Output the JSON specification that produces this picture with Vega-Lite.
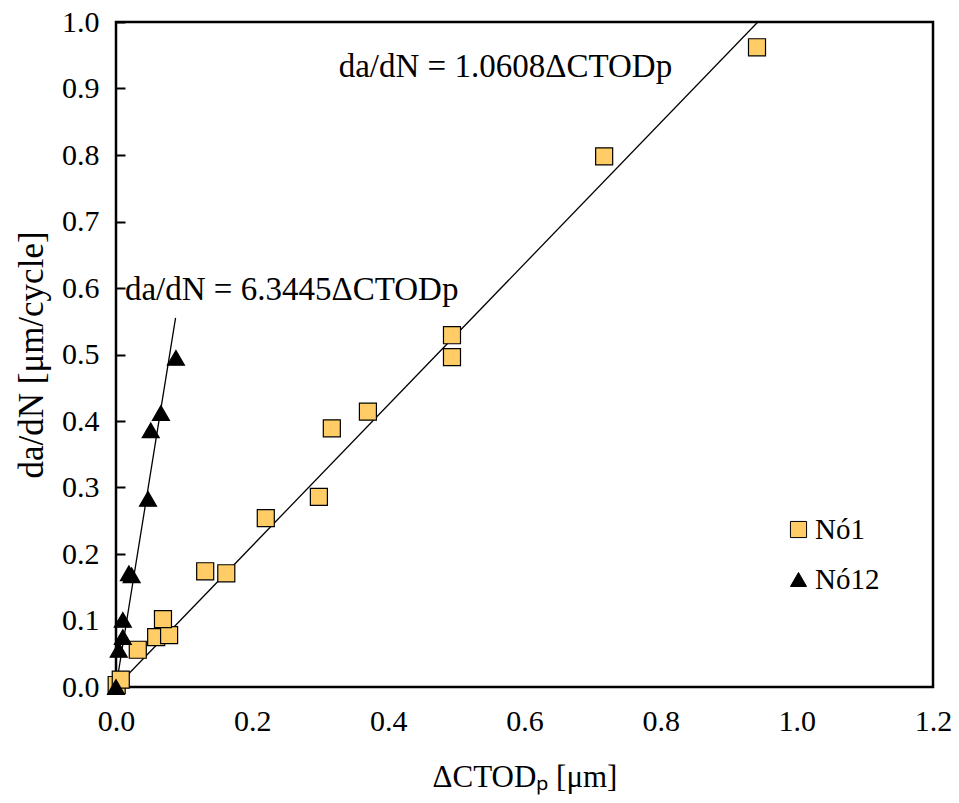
{
  "$schema": "https://vega.github.io/schema/vega-lite/v6.json",
  "width": 817,
  "height": 665,
  "autosize": {"type": "none"},
  "padding": {"left": 116, "top": 22, "right": 26, "bottom": 116},
  "background": "white",
  "config": {
    "font": "Liberation Serif",
    "view": {"stroke": "black", "strokeWidth": 2.5},
    "axis": {
      "grid": false,
      "domain": false,
      "labelFlush": false,
      "labelColor": "black",
      "labelFont": "Liberation Serif",
      "labelFontSize": 30,
      "titleFont": "Liberation Serif",
      "titleColor": "black",
      "titleFontWeight": "normal"
    },
    "legend": {
      "labelFont": "Liberation Serif",
      "labelFontSize": 29,
      "labelColor": "black"
    }
  },
  "datasets": {
    "points": [
      {"series": "Nó1", "ctod": 0.001, "dadn": 0.003},
      {"series": "Nó1", "ctod": 0.007, "dadn": 0.011},
      {"series": "Nó1", "ctod": 0.032, "dadn": 0.056},
      {"series": "Nó1", "ctod": 0.059, "dadn": 0.075},
      {"series": "Nó1", "ctod": 0.078, "dadn": 0.078},
      {"series": "Nó1", "ctod": 0.069, "dadn": 0.102},
      {"series": "Nó1", "ctod": 0.131, "dadn": 0.174},
      {"series": "Nó1", "ctod": 0.162, "dadn": 0.171},
      {"series": "Nó1", "ctod": 0.220, "dadn": 0.254},
      {"series": "Nó1", "ctod": 0.298, "dadn": 0.286},
      {"series": "Nó1", "ctod": 0.317, "dadn": 0.389},
      {"series": "Nó1", "ctod": 0.370, "dadn": 0.414},
      {"series": "Nó1", "ctod": 0.4935, "dadn": 0.496},
      {"series": "Nó1", "ctod": 0.4935, "dadn": 0.529},
      {"series": "Nó1", "ctod": 0.717, "dadn": 0.798},
      {"series": "Nó1", "ctod": 0.9415, "dadn": 0.962},
      {"series": "Nó12", "ctod": 0.0, "dadn": 0.0},
      {"series": "Nó12", "ctod": 0.004, "dadn": 0.056},
      {"series": "Nó12", "ctod": 0.010, "dadn": 0.075},
      {"series": "Nó12", "ctod": 0.010, "dadn": 0.101},
      {"series": "Nó12", "ctod": 0.019, "dadn": 0.171},
      {"series": "Nó12", "ctod": 0.023, "dadn": 0.168},
      {"series": "Nó12", "ctod": 0.047, "dadn": 0.283},
      {"series": "Nó12", "ctod": 0.051, "dadn": 0.386},
      {"series": "Nó12", "ctod": 0.066, "dadn": 0.412},
      {"series": "Nó12", "ctod": 0.088, "dadn": 0.495}
    ],
    "trends": [
      {"series": "Nó1", "ctod": 0.0, "dadn": 0.0},
      {"series": "Nó1", "ctod": 0.9427, "dadn": 1.0},
      {"series": "Nó12", "ctod": 0.0, "dadn": 0.0},
      {"series": "Nó12", "ctod": 0.0875, "dadn": 0.555}
    ],
    "equations": [
      {"ctod": 0.572, "dadn": 0.932, "label": "da/dN = 1.0608ΔCTODp"},
      {"ctod": 0.258, "dadn": 0.597, "label": "da/dN = 6.3445ΔCTODp"}
    ]
  },
  "layer": [
    {
      "data": {"name": "trends"},
      "mark": {"type": "line", "color": "black", "strokeWidth": 1.3, "clip": true},
      "encoding": {
        "x": {"field": "ctod", "type": "quantitative", "scale": {"domain": [0, 1.2], "nice": false}},
        "y": {"field": "dadn", "type": "quantitative", "scale": {"domain": [0, 1.0], "nice": false}},
        "detail": {"field": "series"}
      }
    },
    {
      "data": {"name": "points"},
      "mark": {"type": "point", "filled": true, "stroke": "black", "strokeWidth": 1.2, "opacity": 1, "size": 290},
      "encoding": {
        "x": {
          "field": "ctod",
          "type": "quantitative",
          "scale": {"domain": [0, 1.2], "nice": false},
          "axis": {
            "title": "ΔCTODₚ [μm]",
            "values": [0, 0.2, 0.4, 0.6, 0.8, 1.0, 1.2],
            "format": ".1f",
            "ticks": false,
            "titleFontSize": 31,
            "labelPadding": 19,
            "titlePadding": 26
          }
        },
        "y": {
          "field": "dadn",
          "type": "quantitative",
          "scale": {"domain": [0, 1.0], "nice": false},
          "axis": {
            "title": "da/dN [μm/cycle]",
            "values": [0, 0.1, 0.2, 0.3, 0.4, 0.5, 0.6, 0.7, 0.8, 0.9, 1.0],
            "format": ".1f",
            "ticks": true,
            "tickSize": -9,
            "tickWidth": 2,
            "tickColor": "black",
            "titleFontSize": 35,
            "labelPadding": 26,
            "titlePadding": 12
          }
        },
        "fill": {
          "field": "series",
          "type": "nominal",
          "scale": {"domain": ["Nó1", "Nó12"], "range": ["#FFCC66", "black"]},
          "legend": {
            "title": null,
            "orient": "none",
            "legendX": 668,
            "legendY": 493,
            "rowPadding": 20,
            "symbolSize": 260,
            "symbolStrokeColor": "black",
            "symbolStrokeWidth": 1,
            "labelOffset": 2
          }
        },
        "shape": {
          "field": "series",
          "type": "nominal",
          "scale": {"domain": ["Nó1", "Nó12"], "range": ["square", "triangle-up"]}
        }
      }
    },
    {
      "data": {"name": "equations"},
      "mark": {"type": "text", "font": "Liberation Serif", "fontSize": 33, "color": "black", "align": "center", "baseline": "middle"},
      "encoding": {
        "x": {"field": "ctod", "type": "quantitative"},
        "y": {"field": "dadn", "type": "quantitative"},
        "text": {"field": "label"}
      }
    }
  ]
}
